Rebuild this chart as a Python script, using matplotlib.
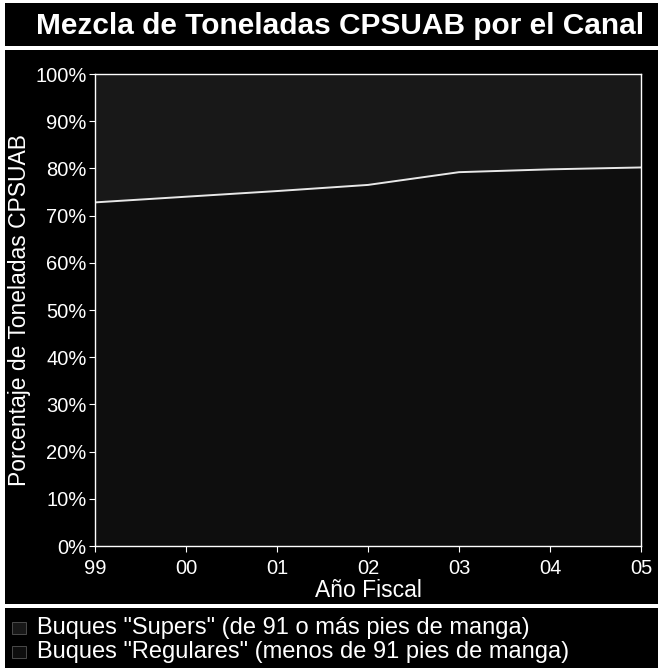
import matplotlib.pyplot as plt
from matplotlib.patches import Rectangle

# data
years = [0, 1, 2, 3, 4, 5, 6]
year_labels = ['99', '00', '01', '02', '03', '04', '05']
regulares = [72.8, 74.0, 75.2, 76.5, 79.2, 79.8, 80.2]
supers = [100 - v for v in regulares]
legend_labels = ['Buques "Supers" (de 91 o más pies de manga)',
                 'Buques "Regulares" (menos de 91 pies de manga)']

plt.rcParams['font.family'] = ['Liberation Sans', 'DejaVu Sans']

W, H = 664, 671
fig = plt.figure(figsize=(W / 100, H / 100), dpi=100, facecolor='white')

def box(x0, y0, x1, y1, color):
    # pixel coords from top-left
    fig.patches.append(Rectangle((x0 / W, 1 - y1 / H), (x1 - x0) / W, (y1 - y0) / H,
                                 transform=fig.transFigure, facecolor=color,
                                 edgecolor='none', zorder=-5))

box(5, 3, 658, 46, 'black')
box(5, 50, 658, 604, 'black')
box(5, 608, 658, 668, 'black')

fig.text(340 / W, 1 - 26 / H, 'Mezcla de Toneladas CPSUAB por el Canal',
         color='white', fontsize=21.5, fontweight='bold', ha='center', va='center')

ax = fig.add_axes([95 / W, 1 - 546 / H, 546 / W, 472 / H])
ax.set_zorder(2)
ax.set_facecolor('black')
ax.stackplot(years, regulares, supers, colors=['#0e0e0e', '#181818'])
ax.plot(years, regulares, color='#e8e8e8', lw=1.4)

ax.set_xlim(0, 6)
ax.set_ylim(0, 100)
ax.set_xticks(years)
ax.set_xticklabels(year_labels)
ax.set_yticks(range(0, 101, 10))
ax.set_yticklabels([f'{v}%' for v in range(0, 101, 10)])
for s in ax.spines.values():
    s.set_color('white')
    s.set_linewidth(1)
ax.tick_params(colors='white', labelsize=14.5, length=4)
ax.tick_params(axis='x', pad=5)
ax.tick_params(axis='y', pad=2)
ax.set_ylabel('Porcentaje de Toneladas CPSUAB', color='white', fontsize=16.5, labelpad=3)
ax.set_xlabel('Año Fiscal', color='white', fontsize=16.5, labelpad=1)

# legend rows
for i, lab in enumerate(legend_labels):
    y = 1 - (628 + i * 24) / H
    fig.patches.append(Rectangle((12 / W, y - 6 / H), 14 / W, 12 / H,
                                 transform=fig.transFigure, facecolor=['#181818', '#0e0e0e'][i],
                                 edgecolor='#555555', lw=0.6, zorder=1))
    fig.text(37 / W, y, lab, color='white', fontsize=17, va='center', ha='left')

fig.savefig('out.png', dpi=100, facecolor='white')
